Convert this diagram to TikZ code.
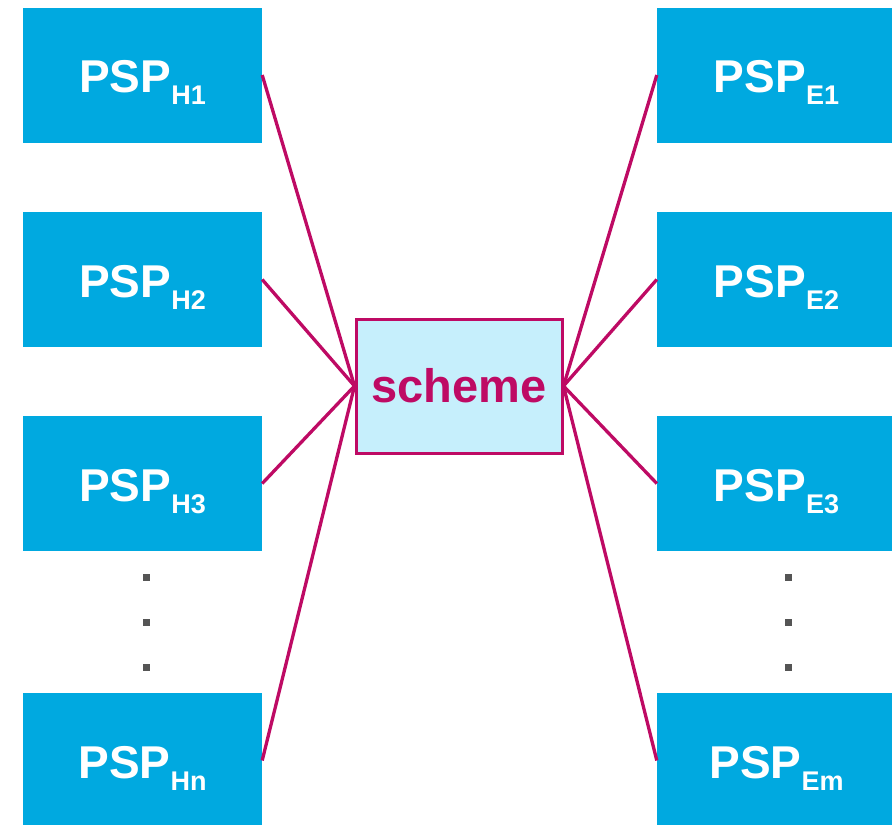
\documentclass[tikz,border=0pt]{standalone}
\usepackage{fontspec}
\setmainfont{Liberation Sans}
\definecolor{pspblue}{RGB}{0,169,224}
\definecolor{linkcol}{RGB}{190,10,100}
\definecolor{schemefill}{RGB}{198,239,252}
\definecolor{dotcol}{RGB}{85,85,85}
\usetikzlibrary{positioning}
\newcommand{\psp}[1]{PSP\smash{\raisebox{-12pt}{\fontsize{27}{27}\selectfont #1}}}

\begin{document}
\begin{tikzpicture}[
  x=1pt, y=-1pt,
  psp/.style={rectangle, fill=pspblue, text=white, minimum width=239pt,
              minimum height=135pt, inner sep=0pt,
              font=\fontsize{46}{46}\selectfont\bfseries},
  pspt/.style={inner sep=0pt, text=white, yshift=-2pt,
               font=\fontsize{46}{46}\selectfont\bfseries},
  scheme/.style={rectangle, draw=linkcol, line width=3pt, fill=schemefill,
                 text=linkcol, minimum width=206pt, minimum height=134pt,
                 font=\fontsize{47}{47}\selectfont\bfseries},
  dotbox/.style={rectangle, fill=dotcol, minimum size=7pt, inner sep=0pt},
  link/.style={line width=3.3pt, color=linkcol}
]
\useasboundingbox (0,0) rectangle (892,825);

% hosts
\node[psp] (h1) at (142.5,75)    {};
\node[psp] (h2) at (142.5,279.5) {};
\node[psp] (h3) at (142.5,483.5) {};
\node[psp] (hn) at (142.5,760.5) {};
\node[pspt] (h1t) at (h1) {\psp{H1}};
\node[pspt] (h2t) at (h2) {\psp{H2}};
\node[pspt] (h3t) at (h3) {\psp{H3}};
\node[pspt] (hnt) at (hn) {\psp{Hn}};

% endpoints
\node[psp] (e1) at (776.5,75)    {};
\node[psp] (e2) at (776.5,279.5) {};
\node[psp] (e3) at (776.5,483.5) {};
\node[psp] (em) at (776.5,760.5) {};
\node[pspt] (e1t) at (e1) {\psp{E1}};
\node[pspt] (e2t) at (e2) {\psp{E2}};
\node[pspt] (e3t) at (e3) {\psp{E3}};
\node[pspt] (emt) at (em) {\psp{Em}};

\node[scheme] (sch) at (459,386) {scheme};

% dots
\node[dotbox] (hd1) at (146.5,577.5) {};
\node[dotbox] (hd2) at (146.5,622.5) {};
\node[dotbox] (hd3) at (146.5,667.5) {};
\node[dotbox] (ed1) at (788,577.5) {};
\node[dotbox] (ed2) at (788,622.5) {};
\node[dotbox] (ed3) at (788,667.5) {};

\draw[link] (h1.east) -- (sch.west);
\draw[link] (h2.east) -- (sch.west);
\draw[link] (h3.east) -- (sch.west);
\draw[link] (hn.east) -- (sch.west);
\draw[link] (e1.west) -- (sch.east);
\draw[link] (e2.west) -- (sch.east);
\draw[link] (e3.west) -- (sch.east);
\draw[link] (em.west) -- (sch.east);

\end{tikzpicture}
\end{document}
